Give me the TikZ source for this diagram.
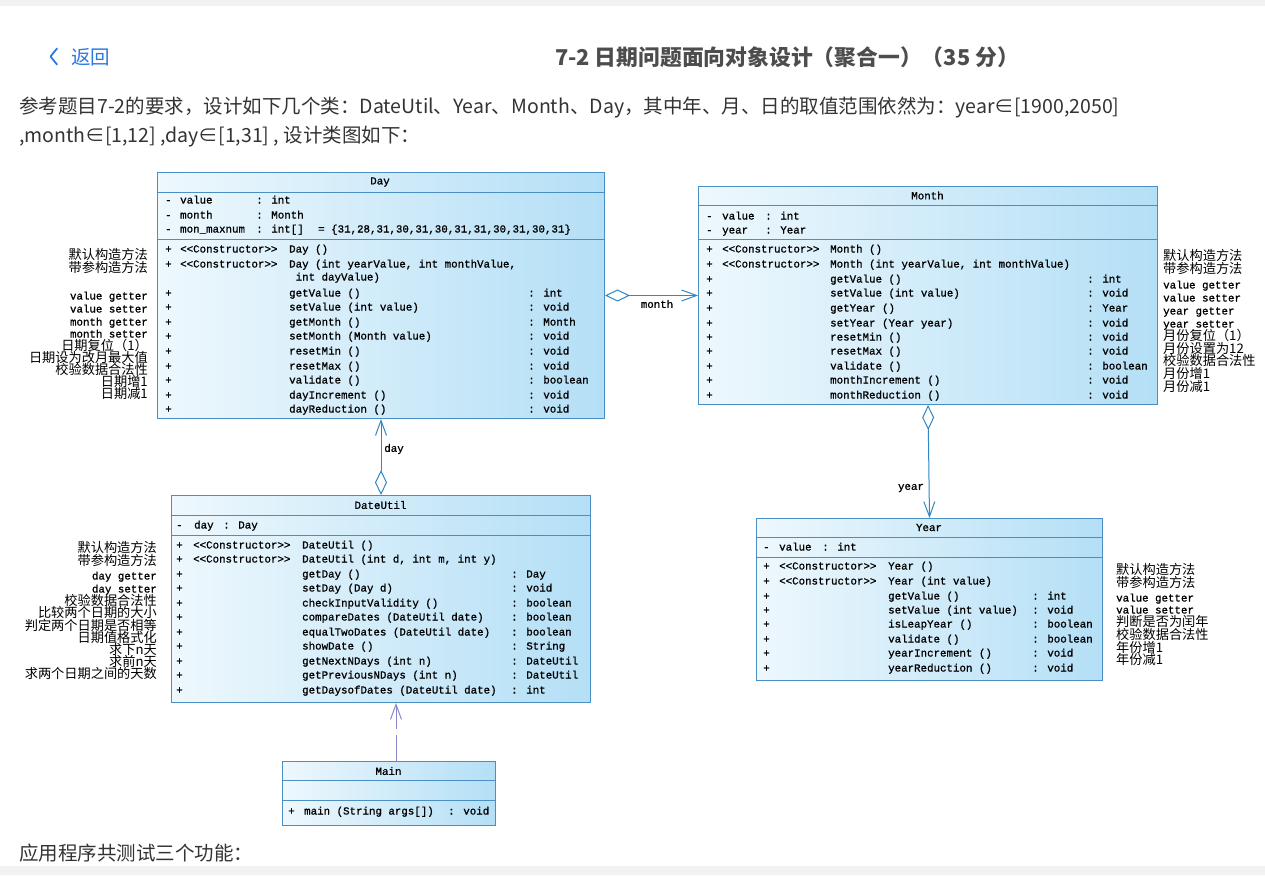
\documentclass[tikz,border=0pt]{standalone}
\usepackage{fontspec}
\setmainfont{Liberation Sans}
\newfontfamily\cjk{Noto Sans CJK SC}
\newfontfamily\umlf{Liberation Mono}[FakeBold=1]
\usetikzlibrary{arrows.meta}
\definecolor{boxborder}{HTML}{4A8FC4}
\definecolor{boxlight}{HTML}{EEF8FD}
\definecolor{boxdark}{HTML}{B4DFF6}
\definecolor{conn}{HTML}{2F87C6}
\definecolor{dep}{HTML}{8A86CC}
\definecolor{linkblue}{HTML}{2A7AE2}
\definecolor{titlegray}{HTML}{4D4D4D}
\definecolor{bodytext}{HTML}{333333}
\definecolor{stripgray}{HTML}{F2F2F2}
\newcommand{\urow}[7]{\makebox[#1][l]{#4}\makebox[#2][l]{#5}\makebox[#3][l]{#6}#7}
\newcommand{\lc}{\cjk\fontsize{13.2}{13}\selectfont}
\newcommand{\lm}{\umlf\fontsize{10.8}{12}\selectfont}
\tikzset{
  umlbox/.style={draw=boxborder, line width=1pt, left color=boxlight, right color=boxdark, rectangle, inner sep=0pt, anchor=north west},
  sepline/.style={draw=boxborder, line width=1pt},
  utxt/.style={font=\lm, inner sep=0pt, anchor=base west, text=black},
  utitle/.style={font=\lm, inner sep=0pt, text=black},
  lbll/.style={inner sep=0pt, anchor=base east, text=black},
  lblr/.style={inner sep=0pt, anchor=base west, text=black},
  assoc/.style={draw=conn, line width=1pt, {Diamond[open,length=25pt,width=12pt,fill=white]}-{Straight Barb[length=15pt,width=11pt]}},
  depend/.style={draw=dep, line width=1pt, dash pattern=on 26pt off 6pt, -{Straight Barb[length=15pt,width=11pt]}},
  clabel/.style={font=\lm, inner sep=0pt, text=black},
  pagetext/.style={anchor=west, inner sep=0pt, text=bodytext, font=\cjk\fontsize{19.5}{19.5}\selectfont}
}
\begin{document}
\begin{tikzpicture}[x=1pt,y=-1pt]
\fill[white] (0,0) rectangle (1265,875);
\useasboundingbox (0,0) rectangle (1265,875);
\fill[stripgray] (0,0) rectangle (1265,6);
\fill[stripgray] (0,866) rectangle (1265,875);

% header
\draw[linkblue, line width=1.8pt, line cap=round, line join=round] (57,48.5) -- (50.5,56.5) -- (57,64.5);
\node[pagetext, text=linkblue] (back) at (71,57) {返回};
\node[inner sep=0pt, text=titlegray, font=\cjk\bfseries\fontsize{21.8}{21.8}\selectfont] (title) at (787,57) {7-2 日期问题面向对象设计（聚合一）（35 分）};
\node[pagetext] (para1) at (19,108) {参考题目7-2的要求，设计如下几个类：DateUtil、Year、Month、Day，其中年、月、日的取值范围依然为：year∈[1900,2050]};
\node[pagetext] (para2) at (19,137) {,month∈[1,12] ,day∈[1,31] , 设计类图如下：};
\node[pagetext] (para3) at (19,853) {应用程序共测试三个功能：};

% ---------- Day ----------
\node[umlbox, minimum width=447pt, minimum height=246pt] (day) at (157,172) {};
\draw[sepline] ([yshift=-20pt]day.north west) -- ([yshift=-20pt]day.north east);
\draw[sepline] ([yshift=-67pt]day.north west) -- ([yshift=-67pt]day.north east);
\node[utitle] (dayt) at (380,182) {Day};
\foreach \y/\a/\b/\c/\d [count=\i] in {
 200/-/value/{: int}/{},
 215/-/month/{: Month}/{},
 229/-/{mon\_maxnum}/{: int[]}/{= \{31,28,31,30,31,30,31,31,30,31,30,31\}}
}{\node[utxt] (daya\i) at (165,\y+3.5) {\urow{15pt}{76pt}{62pt}{\a}{\b}{\c}{\d}};}
\foreach \y/\a/\b/\c/\d [count=\i] in {
 249/+/{<<Constructor>>}/{Day ()}/{},
 264/+/{<<Constructor>>}/{Day (int yearValue, int monthValue,}/{},
 277/{}/{}/{\ int dayValue)}/{},
 293/+/{}/{getValue ()}/{: int},
 307/+/{}/{setValue (int value)}/{: void},
 322/+/{}/{getMonth ()}/{: Month},
 336/+/{}/{setMonth (Month value)}/{: void},
 351/+/{}/{resetMin ()}/{: void},
 366/+/{}/{resetMax ()}/{: void},
 380/+/{}/{validate ()}/{: boolean},
 395/+/{}/{dayIncrement ()}/{: void},
 409/+/{}/{dayReduction ()}/{: void}
}{\node[utxt] (daym\i) at (165,\y+3.5) {\urow{15pt}{109pt}{239pt}{\a}{\b}{\c}{\d}};}

% ---------- Month ----------
\node[umlbox, minimum width=459pt, minimum height=218pt] (month) at (698,186) {};
\draw[sepline] ([yshift=-19pt]month.north west) -- ([yshift=-19pt]month.north east);
\draw[sepline] ([yshift=-53pt]month.north west) -- ([yshift=-53pt]month.north east);
\node[utitle] (montht) at (927.5,195.5) {Month};
\foreach \y/\a/\b/\c [count=\i] in {
 216/-/value/{: int},
 230/-/year/{: Year}
}{\node[utxt] (montha\i) at (706,\y+3.5) {\urow{16pt}{43pt}{60pt}{\a}{\b}{\c}{}};}
\foreach \y/\a/\b/\c/\d [count=\i] in {
 249/+/{<<Constructor>>}/{Month ()}/{},
 264/+/{<<Constructor>>}/{Month (int yearValue, int monthValue)}/{},
 279/+/{}/{getValue ()}/{: int},
 293/+/{}/{setValue (int value)}/{: void},
 308/+/{}/{getYear ()}/{: Year},
 323/+/{}/{setYear (Year year)}/{: void},
 337/+/{}/{resetMin ()}/{: void},
 351/+/{}/{resetMax ()}/{: void},
 366/+/{}/{validate ()}/{: boolean},
 380/+/{}/{monthIncrement ()}/{: void},
 395/+/{}/{monthReduction ()}/{: void}
}{\node[utxt] (monthm\i) at (706,\y+3.5) {\urow{16pt}{108pt}{257pt}{\a}{\b}{\c}{\d}};}

% ---------- DateUtil ----------
\node[umlbox, minimum width=419pt, minimum height=207pt] (dateutil) at (171,495) {};
\draw[sepline] ([yshift=-20pt]dateutil.north west) -- ([yshift=-20pt]dateutil.north east);
\draw[sepline] ([yshift=-40pt]dateutil.north west) -- ([yshift=-40pt]dateutil.north east);
\node[utitle] (dateutilt) at (380.5,505) {DateUtil};
\node[utxt] (dateutila1) at (176,528.5) {\urow{18pt}{29pt}{60pt}{-}{day}{: Day}{}};
\foreach \y/\a/\b/\c/\d [count=\i] in {
 545/+/{<<Constructor>>}/{DateUtil ()}/{},
 559/+/{<<Constructor>>}/{DateUtil (int d, int m, int y)}/{},
 574/+/{}/{getDay ()}/{: Day},
 588/+/{}/{setDay (Day d)}/{: void},
 603/+/{}/{checkInputValidity ()}/{: boolean},
 617/+/{}/{compareDates (DateUtil date)}/{: boolean},
 632/+/{}/{equalTwoDates (DateUtil date)}/{: boolean},
 646/+/{}/{showDate ()}/{: String},
 661/+/{}/{getNextNDays (int n)}/{: DateUtil},
 675/+/{}/{getPreviousNDays (int n)}/{: DateUtil},
 690/+/{}/{getDaysofDates (DateUtil date)}/{: int}
}{\node[utxt] (dateutilm\i) at (176,\y+3.5) {\urow{17pt}{109pt}{209pt}{\a}{\b}{\c}{\d}};}

% ---------- Year ----------
\node[umlbox, minimum width=346pt, minimum height=162pt] (year) at (756,518) {};
\draw[sepline] ([yshift=-19pt]year.north west) -- ([yshift=-19pt]year.north east);
\draw[sepline] ([yshift=-39pt]year.north west) -- ([yshift=-39pt]year.north east);
\node[utitle] (yeart) at (929,527.5) {Year};
\node[utxt] (yeara1) at (763,550.5) {\urow{16pt}{43pt}{60pt}{-}{value}{: int}{}};
\foreach \y/\a/\b/\c/\d [count=\i] in {
 566/+/{<<Constructor>>}/{Year ()}/{},
 581/+/{<<Constructor>>}/{Year (int value)}/{},
 596/+/{}/{getValue ()}/{: int},
 610/+/{}/{setValue (int value)}/{: void},
 624/+/{}/{isLeapYear ()}/{: boolean},
 639/+/{}/{validate ()}/{: boolean},
 653/+/{}/{yearIncrement ()}/{: void},
 668/+/{}/{yearReduction ()}/{: void}
}{\node[utxt] (yearm\i) at (763,\y+3.5) {\urow{16pt}{109pt}{144pt}{\a}{\b}{\c}{\d}};}

% ---------- Main ----------
\node[umlbox, minimum width=213pt, minimum height=64pt] (main) at (282,761) {};
\draw[sepline] ([yshift=-19pt]main.north west) -- ([yshift=-19pt]main.north east);
\draw[sepline] ([yshift=-39pt]main.north west) -- ([yshift=-39pt]main.north east);
\node[utitle] (maint) at (388.5,771) {Main};
\node[utxt] (mainm1) at (288,814.5) {\urow{16pt}{144pt}{0pt}{+}{main (String args[])}{: void}{}};

% ---------- side labels ----------
\foreach \y/\f/\t [count=\i] in {
 255/\lc/默认构造方法, 268/\lc/带参构造方法, 295/\lm/value getter, 308/\lm/value setter,
 321/\lm/month getter, 333/\lm/month setter, 346/\lc/日期复位（1）, 358/\lc/日期设为改月最大值,
 370/\lc/校验数据合法性, 382/\lc/日期增1, 394/\lc/日期减1
}{\node[lbll] (dayl\i) at (148,\y+4.5) {\f \t};}
\foreach \y/\f/\t [count=\i] in {
 256/\lc/默认构造方法, 269/\lc/带参构造方法, 284/\lm/value getter, 297/\lm/value setter,
 310/\lm/year getter, 323/\lm/year setter, 336/\lc/月份复位（1）, 349/\lc/月份设置为12,
 361/\lc/校验数据合法性, 374/\lc/月份增1, 387/\lc/月份减1
}{\node[lblr] (monthl\i) at (1163,\y+4.5) {\f \t};}
\foreach \y/\f/\t [count=\i] in {
 548/\lc/默认构造方法, 561/\lc/带参构造方法, 575/\lm/day getter, 588/\lm/day setter,
 601/\lc/校验数据合法性, 613/\lc/比较两个日期的大小, 626/\lc/判定两个日期是否相等, 638/\lc/日期值格式化,
 650/\lc/求下n天, 662/\lc/求前n天, 674/\lc/求两个日期之间的天数
}{\node[lbll] (dateutill\i) at (157,\y+4.5) {\f \t};}
\foreach \y/\f/\t [count=\i] in {
 570/\lc/默认构造方法, 583/\lc/带参构造方法, 597/\lm/value getter, 609/\lm/value setter,
 622/\lc/判断是否为闰年, 635/\lc/校验数据合法性, 648/\lc/年份增1, 660/\lc/年份减1
}{\node[lblr] (yearl\i) at (1116,\y+4.5) {\f \t};}

% ---------- connectors ----------
\draw[assoc] (day.east) -- (day.east -| month.west);
\node[clabel] (lmonth) at (657,304) {month};
\draw[assoc] (month.south) -- (year.north);
\node[clabel] (lyear) at (911,488) {year};
\draw[assoc] (dateutil.north) -- (day.south);
\node[clabel] (lday) at (394,449) {day};
\draw[depend] ([xshift=7pt]main.north) -- ([xshift=7pt]main.north |- dateutil.south);
\end{tikzpicture}
\end{document}
